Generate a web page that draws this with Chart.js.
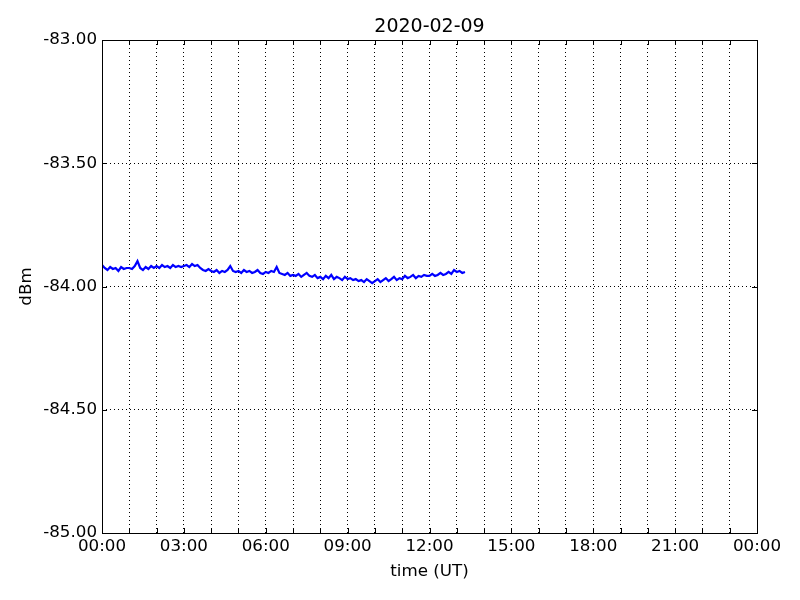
<!DOCTYPE html>
<html>
<head>
<meta charset="utf-8">
<script src="https://cdn.jsdelivr.net/npm/chart.js@4/dist/chart.umd.min.js"></script>
<style>
  html, body { margin: 0; padding: 0; background: #fff; }
</style>
</head>
<body>
<canvas id="chart" width="800" height="600"></canvas>
<script>
const chartTitle = '2020-02-09'
const xAxisTitle = 'time (UT)'
const yAxisTitle = 'dBm'

// samples every 6 minutes starting at 00:00 UT
const sampleStepHours = 0.1
const signalDbm = [
    -83.913, -83.925, -83.933, -83.921, -83.929, -83.925, -83.937, -83.921, -83.929, -83.925,
    -83.925, -83.929, -83.917, -83.897, -83.925, -83.933, -83.921, -83.929, -83.917, -83.925,
    -83.917, -83.925, -83.913, -83.921, -83.917, -83.925, -83.913, -83.921, -83.917, -83.921,
    -83.917, -83.913, -83.921, -83.909, -83.917, -83.913, -83.925, -83.933, -83.937, -83.929,
    -83.937, -83.941, -83.933, -83.945, -83.937, -83.941, -83.933, -83.917, -83.937, -83.941,
    -83.937, -83.945, -83.933, -83.941, -83.937, -83.945, -83.941, -83.933, -83.945, -83.949,
    -83.941, -83.945, -83.937, -83.941, -83.921, -83.945, -83.949, -83.953, -83.945, -83.957,
    -83.953, -83.957, -83.949, -83.961, -83.953, -83.945, -83.957, -83.961, -83.953, -83.966,
    -83.961, -83.970, -83.957, -83.966, -83.953, -83.970, -83.961, -83.966, -83.974, -83.961,
    -83.970, -83.966, -83.974, -83.970, -83.978, -83.974, -83.982, -83.970, -83.978, -83.986,
    -83.978, -83.970, -83.982, -83.974, -83.966, -83.978, -83.970, -83.961, -83.974, -83.966,
    -83.970, -83.957, -83.966, -83.961, -83.953, -83.966, -83.957, -83.961, -83.953, -83.957,
    -83.957, -83.949, -83.957, -83.953, -83.945, -83.953, -83.949, -83.941, -83.949, -83.933,
    -83.941, -83.937, -83.945, -83.941
]

const xMin = 0
const xMax = 24
const yMin = -85
const yMax = -83
const yStep = 0.5

const points = signalDbm.map((v, i) => ({ x: i * sampleStepHours, y: v }))

const fontFamily = '"DejaVu Sans", sans-serif'

// frame, inward tick marks and title centred over the plot, matplotlib style
const framePlugin = {
    id: 'frame',
    afterDraw(chart) {
        const { ctx, chartArea: a, scales } = chart
        ctx.save()
        ctx.strokeStyle = '#000'
        ctx.lineWidth = 1
        ctx.strokeRect(Math.round(a.left) + 0.5, Math.round(a.top) + 0.5,
            Math.round(a.right - a.left), Math.round(a.bottom - a.top))
        const len = 5
        ctx.beginPath()
        scales.x.ticks.forEach(t => {
            const px = Math.round(scales.x.getPixelForValue(t.value)) + 0.5
            ctx.moveTo(px, a.bottom); ctx.lineTo(px, a.bottom - len)
            ctx.moveTo(px, a.top); ctx.lineTo(px, a.top + len)
        })
        scales.y.ticks.forEach(t => {
            const py = Math.round(scales.y.getPixelForValue(t.value)) + 0.5
            ctx.moveTo(a.left, py); ctx.lineTo(a.left + len, py)
            ctx.moveTo(a.right, py); ctx.lineTo(a.right - len, py)
        })
        ctx.stroke()

        ctx.fillStyle = '#000'
        ctx.font = '19px ' + fontFamily
        ctx.textAlign = 'center'
        ctx.textBaseline = 'middle'
        ctx.fillText(chartTitle, (a.left + a.right) / 2, 27)
        ctx.restore()
    }
}

new Chart(document.getElementById('chart'), {
    type: 'line',
    data: {
        datasets: [{
            data: points,
            borderColor: '#0000ff',
            borderWidth: 2.2,
            pointRadius: 0,
            tension: 0,
            fill: false
        }]
    },
    options: {
        responsive: false,
        animation: false,
        layout: { padding: { left: 0, right: 43, top: 40, bottom: 0 } },
        plugins: {
            legend: { display: false },
            tooltip: { enabled: false },
            title: { display: false }
        },
        scales: {
            x: {
                type: 'linear',
                min: xMin,
                max: xMax,
                afterFit(scale) { scale.height = 67 },
                ticks: {
                    stepSize: 1,
                    autoSkip: false,
                    maxRotation: 0,
                    padding: 4,
                    color: '#000',
                    font: { family: fontFamily, size: 16.7 },
                    callback: v => {
                        if (v % 3 !== 0) return ''
                        const h = v % 24
                        return (h < 10 ? '0' : '') + h + ':00'
                    }
                },
                grid: { color: '#000', lineWidth: 1, drawTicks: false },
                border: { display: false, dash: [1, 3] },
                title: {
                    display: true,
                    text: xAxisTitle,
                    color: '#000',
                    font: { family: fontFamily, size: 16.7 },
                    padding: { top: 2, bottom: 18 }
                }
            },
            y: {
                min: yMin,
                max: yMax,
                afterFit(scale) { scale.width = 102 },
                ticks: {
                    stepSize: yStep,
                    padding: 5,
                    color: '#000',
                    font: { family: fontFamily, size: 16.7 },
                    callback: v => v.toFixed(2)
                },
                grid: { color: '#000', lineWidth: 1, drawTicks: false },
                border: { display: false, dash: [1, 3] },
                title: {
                    display: true,
                    text: yAxisTitle,
                    color: '#000',
                    font: { family: fontFamily, size: 16.7 },
                    padding: { top: 17, bottom: 2 }
                }
            }
        }
    },
    plugins: [framePlugin]
})
</script>
</body>
</html>
